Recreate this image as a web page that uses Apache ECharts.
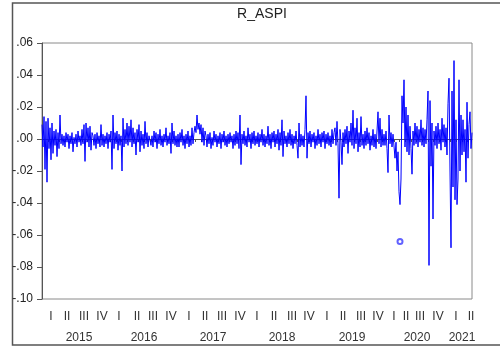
<!DOCTYPE html>
<html><head><meta charset="utf-8">
<script src="https://cdn.jsdelivr.net/npm/echarts@6/dist/echarts.min.js"></script>
<style>html,body{margin:0;padding:0;background:#fff}#c{width:500px;height:347px}</style>
</head><body><div id="c"></div>
<script>
// Quarter tick labels and their observation positions
const quarterLabels = ['I','II','III','IV','I','II','III','IV','I','II','III','IV','I','II','III','IV','I','II','III','IV','I','II','III','IV','I','II'];
const quarterPos = [9,25,42,60,77,95,111,129,147,163,180,198,215,232,250,267,285,301,319,336,352,364,378,396,414,429];
// Year labels and positions
const yearLabels = ['2015','2016','2017','2018','2019','2020','2021'];
const yearPos = [37,102,171,240,310,375,420];
// R_ASPI daily returns, in thousandths
const returnsMilli = [
  9,-5,14,-19,11,-27,13,-6,7,-13,10,-9,5,-4,6,-11,4,-6,15,-3,
  3,-4,2,-5,4,-2,3,-6,2,-3,4,-8,1,-3,3,-5,5,-2,2,-4,
  6,-3,9,-14,10,-2,7,-5,8,-7,4,
  2,-4,3,-6,4,-3,2,-5,9,-4,3,-5,2,-3,4,-6,3,-2,5,
  -19,15,-6,4,
  -3,5,-7,3,-4,2,
  -20,13,-5,
  6,-3,10,-4,8,-2,12,-5,7,-3,4,-10,6,-2,9,-8,5,-4,3,-6,11,-3,4,-5,2,
  3,-4,2,-5,5,-2,4,-6,3,-3,6,-4,2,-5,3,-2,7,-4,2,-3,4,-9,10,-3,5,-4,2,-5,
  3,-5,4,-2,6,-4,2,-6,3,-3,5,-5,2,-4,7,-3,4,
  8,4,15,6,10,3,9,-2,7,-4,5,
  2,-5,3,-3,4,-6,1,-4,5,-2,3,-5,2,-3,4,-6,3,-2,5,-4,2,-5,3,-3,4,-2,2,-6,3,-4,5,-3,
  4,-6,15,-16,3,
  -3,5,-4,2,-5,7,-2,3,-6,4,-3,5,-4,2,-3,4,-5,3,-2,6,-4,3,-5,2,-3,
  8,-4,3,-6,4,-2,5,-5,3,-3,6,-7,4,-4,12,-11,5,-3,
  2,-5,4,-3,6,-4,3,-6,2,-3,5,-4,-12,10,-5,3,-4,2,-5,
  6,27,-12,4,
  -3,5,-5,3,-2,4,-6,2,-4,6,-3,3,-5,4,-2,5,-6,3,-3,4,-4,2,-5,6,-3,4,
  7,-4,11,-3,-37,6,-2,-16,
  4,-5,6,-3,8,-9,5,-2,10,-4,18,-6,7,-3,13,-8,4,-5,14,-4,
  3,-6,5,-4,7,-3,4,-7,2,-4,6,-5,3,-6,5,
  17,-3,13,-5,6,-4,3,
  -4,5,-6,-21,15,-3,4,-5,3,
  4,-12,-2,-20,-8,-33,-41,
  -25,27,10,37,-5,20,-8,15,-10,8,-6,
  -22,
  5,-4,10,-3,8,-5,6,-2,12,-4,7,-5,
  6,-3,12,30,-79,24,-17,10,-50,5,
  -4,8,-6,10,-3,6,-7,13,-2,9,-5,7,
  -10,22,38,-20,-68,30,-30,49,-38,12,-41,-25,37,-20,15,
  -10,12,-8,6,-27,23,-12,9,17,-6,4
];
// isolated observation drawn as a circle
const isolatedObs = [[358, -0.064]];

const N = returnsMilli.length;
const values = returnsMilli.map(v => v / 1000);
const qCats = new Array(N).fill('');
quarterPos.forEach((p, i) => { qCats[p] = quarterLabels[i]; });
const yCats = new Array(N).fill('');
yearPos.forEach((p, i) => { yCats[p] = yearLabels[i]; });

const font = 'Liberation Sans, Arial, sans-serif';
const chart = echarts.init(document.getElementById('c'), null, {renderer: 'canvas'});
chart.setOption({
  animation: false,
  backgroundColor: '#ffffff',
  title: {
    text: 'R_ASPI', left: 257, top: 2, textAlign: 'center',
    textStyle: {fontFamily: font, fontSize: 14, fontWeight: 'normal', color: '#222'}
  },
  grid: {left: 42, top: 43, right: 28, bottom: 48, show: true, borderColor: '#8a8a8a', borderWidth: 1},
  xAxis: [{
    type: 'category', data: qCats, boundaryGap: false, position: 'bottom',
    axisLine: {show: true, lineStyle: {color: '#555', width: 1}},
    axisTick: {show: true, length: 3, lineStyle: {color: '#555'},
      interval: (i) => Math.abs(i / 5.67 - Math.round(i / 5.67)) < 0.09},
    axisLabel: {interval: (i, v) => v !== '', margin: 12, fontFamily: font, fontSize: 12, color: '#333'},
    splitLine: {show: false}
  }, {
    type: 'category', data: yCats, boundaryGap: false, position: 'bottom',
    axisLine: {show: false}, axisTick: {show: false},
    axisLabel: {interval: (i, v) => v !== '', margin: 33, fontFamily: font, fontSize: 12, color: '#333'},
    splitLine: {show: false}
  }],
  yAxis: {
    type: 'value', min: -0.10, max: 0.06, interval: 0.02,
    axisLine: {show: true, lineStyle: {color: '#555'}},
    axisTick: {show: true, length: 5, lineStyle: {color: '#555'}},
    axisLabel: {margin: 9, fontFamily: font, fontSize: 12, color: '#222',
      formatter: v => (v < -1e-9 ? '-' : '') + Math.abs(v).toFixed(2).replace(/^0/, '')},
    splitLine: {show: false}
  },
  series: [{
    type: 'line', data: values, xAxisIndex: 0, showSymbol: false, symbol: 'none',
    sampling: null, lineStyle: {color: '#0000ff', width: 1}
  }, {
    type: 'scatter', data: isolatedObs, xAxisIndex: 0, symbol: 'emptyCircle', symbolSize: 5,
    itemStyle: {color: '#3a3aff', borderColor: '#3a3aff', borderWidth: 1}
  }],
  graphic: [{
    type: 'polyline', silent: true,
    shape: {points: [[500, 3], [12.5, 3], [12.5, 345], [500, 345]]},
    style: {stroke: '#555', lineWidth: 1.5, fill: null}
  }]
});
</script></body></html>
